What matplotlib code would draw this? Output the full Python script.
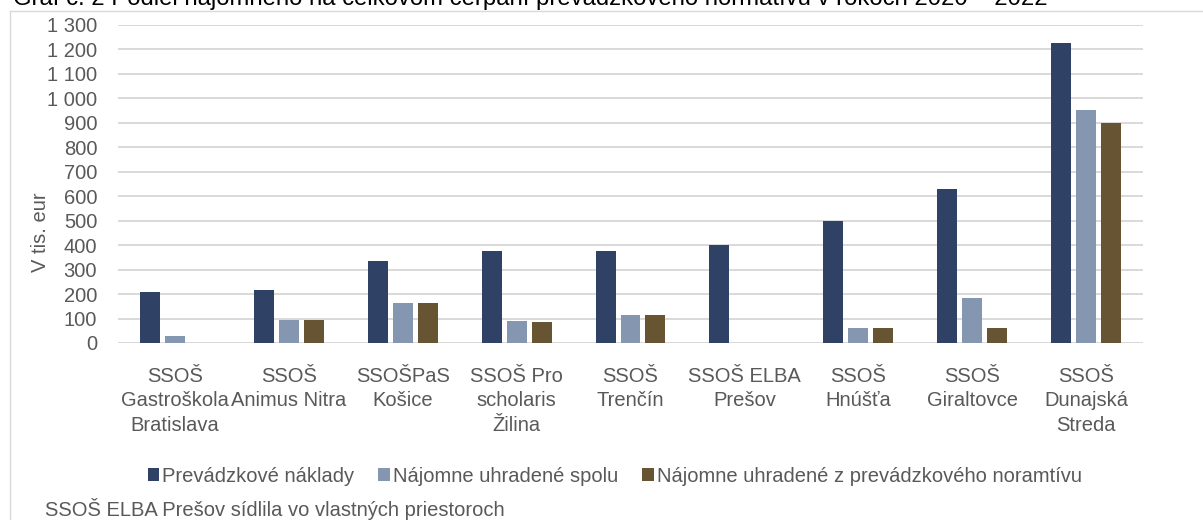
import matplotlib
matplotlib.use("Agg")
import matplotlib.pyplot as plt
import numpy as np
from matplotlib.lines import Line2D
from matplotlib.patches import Patch
from matplotlib.ticker import FuncFormatter

plt.rcParams["font.family"] = ["Liberation Sans", "DejaVu Sans"]

schools = [
    "SSOŠ\nGastroškola\nBratislava",
    "SSOŠ\nAnimus Nitra",
    "SSOŠPaS\nKošice",
    "SSOŠ Pro\nscholaris\nŽilina",
    "SSOŠ\nTrenčín",
    "SSOŠ ELBA\nPrešov",
    "SSOŠ\nHnúšťa",
    "SSOŠ\nGiraltovce",
    "SSOŠ\nDunajská\nStreda",
]
prevadzkove_naklady = [208, 218, 335, 375, 376, 400, 498, 628, 1225]
najomne_spolu = [29, 95, 162, 91, 114, 0, 60, 183, 952]
najomne_z_normativu = [0, 95, 162, 85, 114, 0, 60, 60, 898]

series_names = [
    "Prevádzkové náklady",
    "Nájomne uhradené spolu",
    "Nájomne uhradené z prevádzkového noramtívu",
]
colors = ["#2f4265", "#8496b0", "#665432"]
text_gray = "#595959"
grid_gray = "#d9d9d9"
fs = 14.5

W, H = 1203, 520
fig = plt.figure(figsize=(W / 100, H / 100), dpi=100)
ax = fig.add_axes([118 / W, 1 - 343 / H, (1143 - 118) / W, (343 - 25) / H])

x = np.arange(len(schools))
bw = 20 / 113.9
step = 25 / 113.9
for i, (vals, c) in enumerate(zip([prevadzkove_naklady, najomne_spolu, najomne_z_normativu], colors)):
    ax.bar(x + (i - 1) * step, vals, width=bw, color=c, zorder=3)

ax.set_xlim(-0.5, len(schools) - 0.5)
ax.set_ylim(0, 1300)
ax.set_yticks(np.arange(0, 1301, 100))
ax.yaxis.set_major_formatter(FuncFormatter(lambda v, p: f"{int(v):,}".replace(",", " ")))
ax.grid(axis="y", color=grid_gray, linewidth=1.4, zorder=0)
for s in ax.spines.values():
    s.set_visible(False)
ax.axhline(0, color=grid_gray, linewidth=1.4, zorder=2)
ax.tick_params(axis="both", length=0, labelsize=fs, labelcolor=text_gray)
ax.tick_params(axis="y", pad=15)
ax.tick_params(axis="x", pad=17)
ax.set_xticks(x)
ax.set_xticklabels(schools, va="top")
for lbl in ax.get_xticklabels():
    lbl.set_linespacing(1.37)

ax.set_ylabel("V tis. eur", fontsize=fs, color=text_gray)
ax.yaxis.set_label_coords(-0.066, 0.349)

handles = [Patch(facecolor=c, edgecolor="none") for c in colors]
fig.legend(handles, series_names, loc="center", bbox_to_anchor=(0.511, 1 - 476 / H),
           ncol=3, frameon=False, fontsize=fs, labelcolor=text_gray,
           handlelength=0.57, handleheight=0.57, handletextpad=0.15, columnspacing=1.2)

fig.text(45 / W, 4 / H, "SSOŠ ELBA Prešov sídlila vo vlastných priestoroch",
         fontsize=fs, color=text_gray, ha="left", va="baseline")

fig.text(13 / W, 1 - 5 / H,
         "Graf č. 2 Podiel nájomného na celkovom čerpaní prevádzkového normatívu v rokoch 2020 – 2022",
         fontsize=17.2, color="black", ha="left", va="baseline")

# light frame around the chart area (top and left edges visible)
fig.add_artist(Line2D([10 / W, 1], [1 - 11 / H, 1 - 11 / H], color=grid_gray, linewidth=1))
fig.add_artist(Line2D([10 / W, 10 / W], [0, 1 - 11 / H], color=grid_gray, linewidth=1))

fig.savefig("out.png", dpi=100)
